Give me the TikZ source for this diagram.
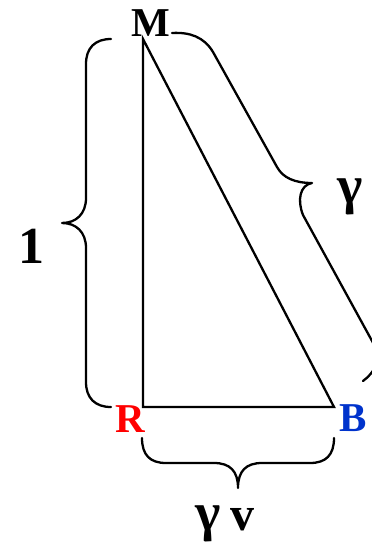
\documentclass[tikz,border=0pt]{standalone}
\usepackage{fontspec}
\setmainfont{Liberation Serif}
\definecolor{rcol}{RGB}{255,0,0}
\definecolor{bcol}{RGB}{0,51,204}
\newcommand{\gfont}{\fontsize{54}{60}\selectfont\bfseries}
\tikzset{
  edge/.style={line width=2.3pt, line join=miter},
  bracepath/.style={line width=2.3pt, line cap=round, line join=round},
  lbl/.style={font=\fontsize{41}{48}\selectfont\bfseries, inner sep=0pt, anchor=base},
  vlbl/.style={font=\fontsize{48}{52}\selectfont\bfseries, inner sep=0pt, anchor=base},
  biglbl/.style={font=\fontsize{52}{60}\selectfont\bfseries, inner sep=0pt, anchor=base},
}
\begin{document}
\begin{tikzpicture}[x=1pt,y=-1pt]
\useasboundingbox (0,0) rectangle (372,546);
\clip (0,0) rectangle (372,546);
\fill[white] (0,0) rectangle (372,546);
% vertices
\coordinate (M) at (143,39);
\coordinate (R) at (143,407);
\coordinate (B) at (334,407);
\draw[edge] (M) -- (R) -- (B) -- cycle;
% labels
\node[lbl] (Mlab) at (151,36) {M};
\node[lbl, text=rcol] (Rlab) at (130,432) {R};
\node[lbl, text=bcol] (Blab) at (353,431) {B};
\node[biglbl] (one) at (32,263) {1};
\node[vlbl] (gam) at (350,203) {{\gfont γ}};
\node[vlbl] (gamv) at (225,530) {{\gfont γ}\hspace{9pt}v};
% left brace
\draw[bracepath] (111,39) .. controls (95,39) and (86,48) .. (86,64) -- (86,198)
  .. controls (86,214) and (76,223) .. (62,223)
  .. controls (76,223) and (86,232) .. (86,248) -- (86,382)
  .. controls (86,398) and (95,407) .. (111,407);
% bottom brace
\draw[bracepath] (142,438) .. controls (142,455) and (150,463) .. (166,463) -- (214,463)
  .. controls (230,463) and (238,471) .. (238,488)
  .. controls (238,471) and (246,463) .. (262,463) -- (310,463)
  .. controls (326,463) and (334,455) .. (334,438);
% diagonal brace
\draw[bracepath] (172,33) .. controls (190,32) and (204,37) .. (213,52) -- (277,167)
  .. controls (283,178) and (295,183) .. (312,183)
  .. controls (300,185) and (297,200) .. (303,215) -- (377,350)
  .. controls (381,360) and (374,373) .. (363,381);
\end{tikzpicture}
\end{document}
